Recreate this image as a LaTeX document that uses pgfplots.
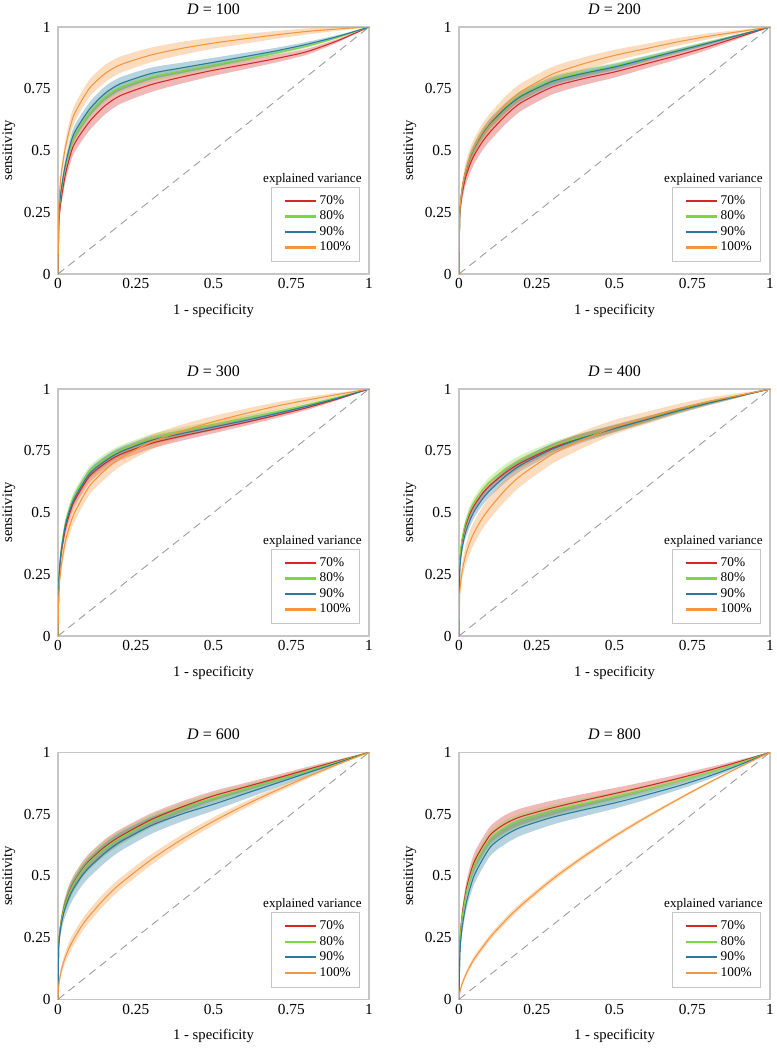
\documentclass[border=0pt]{standalone}
\usepackage{fontspec}
\setmainfont{Liberation Serif}
\usepackage{pgfplots}
\usepackage{pgfplotstable}
\pgfplotsset{compat=1.18}
\usepgfplotslibrary{fillbetween}

\definecolor{cR}{RGB}{214,39,40}
\definecolor{cG}{RGB}{124,214,60}
\definecolor{cB}{RGB}{40,120,160}
\definecolor{cO}{RGB}{245,150,60}

% x, band shape s, mean sensitivity for 70/80/90/100 %
\pgfplotstableread{
x     s    r    g    b    o
0     0    0    0    0    0
0.003 .45  .21  .23  .24  .28
0.01  .7   .30  .33  .34  .40
0.025 .85  .41  .44  .45  .52
0.05  1    .52  .55  .565 .64
0.1   1    .615 .65  .665 .75
0.15  1    .68  .715 .73  .81
0.2   .95  .722 .755 .77  .847
0.3   .85  .767 .797 .812 .887
0.4   .75  .798 .822 .835 .914
0.5   .65  .825 .846 .857 .935
0.6   .55  .848 .87  .88  .952
0.7   .45  .872 .895 .903 .968
0.8   .35  .90  .922 .93  .982
0.9   .2   .945 .958 .962 .992
1     0    1    1    1    1
}\tA
\pgfplotstableread{
x     s    r    g    b    o
0     0    0    0    0    0
0.002 .4   .216 .229 .229 .231
0.005 .55  .272 .289 .289 .291
0.01  .7   .323 .343 .343 .346
0.02  .85  .385 .408 .408 .411
0.035 1    .442 .469 .469 .473
0.05  1    .484 .513 .513 .517
0.075 1    .535 .568 .568 .573
0.1   1    .575 .610 .610 .615
0.15  1    .642 .674 .672 .685
0.2   .95  .694 .724 .720 .739
0.3   .85  .757 .785 .780 .809
0.4   .75  .791 .816 .812 .851
0.5   .65  .818 .842 .838 .885
0.6   .55  .851 .873 .870 .912
0.7   .45  .884 .904 .902 .939
0.8   .35  .920 .936 .934 .962
0.9   .2   .960 .968 .967 .981
1     0    1    1    1    1
}\tB
\pgfplotstableread{
x     s    r    g    b    o
0     0    0    0    0    0
0.003 .45  .22  .235 .23  .18
0.01  .7   .33  .35  .34  .28
0.025 .85  .44  .465 .455 .39
0.05  1    .54  .56  .55  .49
0.1   1    .645 .665 .655 .605
0.15  1    .698 .716 .707 .67
0.2   .95  .735 .752 .745 .72
0.3   .85  .78  .80  .792 .785
0.4   .75  .81  .83  .82  .83
0.5   .65  .837 .857 .846 .868
0.6   .55  .864 .882 .872 .90
0.7   .45  .893 .908 .90  .93
0.8   .35  .924 .936 .93  .955
0.9   .2   .96  .967 .963 .978
1     0    1    1    1    1
}\tC
\pgfplotstableread{
x     s    r    g    b    o
0     0    0    0    0    0
0.002 .4   .279 .286 .250 .161
0.005 .55  .335 .343 .305 .212
0.01  .7   .385 .394 .356 .261
0.02  .85  .442 .453 .414 .321
0.035 1    .495 .507 .468 .380
0.05  1    .531 .544 .507 .422
0.075 1    .576 .590 .554 .477
0.1   1    .610 .625 .590 .520
0.15  1    .662 .676 .648 .593
0.2   .95  .702 .714 .693 .651
0.3   .85  .761 .769 .757 .736
0.4   .75  .805 .808 .803 .796
0.5   .65  .840 .840 .840 .846
0.6   .55  .876 .876 .875 .882
0.7   .45  .912 .912 .910 .918
0.8   .35  .944 .944 .942 .949
0.9   .2   .972 .972 .971 .974
1     0    1    1    1    1
}\tD
\pgfplotstableread{
x     s    r    g    b    o
0     0    0    0    0    0
0.002 .4   .211 .209 .201 .05
0.005 .55  .265 .263 .253 .08
0.01  .7   .315 .312 .300 .114
0.02  .85  .375 .371 .357 .158
0.035 1    .431 .427 .411 .206
0.05  1    .471 .467 .449 .243
0.075 1    .521 .517 .497 .295
0.1   1    .560 .555 .534 .337
0.15  1    .617 .611 .592 .408
0.2   .95  .660 .654 .638 .468
0.3   .85  .728 .721 .704 .566
0.4   .75  .780 .772 .751 .649
0.5   .65  .824 .815 .790 .721
0.6   .55  .859 .851 .832 .786
0.7   .45  .894 .887 .874 .845
0.8   .35  .930 .924 .916 .90
0.9   .2   .965 .962 .958 .952
1     0    1    1    1    1
}\tE
\pgfplotstableread{
x     s    r    g    b    o
0     0    0    0    0    0
0.003 .45  .23  .22  .19  .031
0.01  .7   .34  .33  .29  .063
0.025 .85  .455 .44  .40  .109
0.05  1    .56  .545 .505 .166
0.1   1    .665 .65  .615 .251
0.15  1    .712 .697 .665 .32
0.2   .95  .74  .725 .697 .381
0.3   .85  .775 .762 .737 .486
0.4   .75  .805 .792 .767 .577
0.5   .65  .833 .82  .795 .66
0.6   .55  .862 .85  .827 .736
0.7   .45  .893 .882 .862 .807
0.8   .35  .926 .917 .902 .875
0.9   .2   .962 .956 .948 .939
1     0    1    1    1    1
}\tF

\pgfplotsset{
  rocaxis/.style={
    scale only axis, width=233.25pt, height=185.25pt, anchor=south west,
    xmin=0, xmax=1, ymin=0, ymax=1,
    xtick={0,0.25,0.5,0.75,1}, ytick={0,0.25,0.5,0.75,1},
    xticklabels={0,0.25,0.5,0.75,1}, yticklabels={0,0.25,0.5,0.75,1},
    /pgf/number format/assume math mode=true,
    major tick length=0pt,
    axis line style={gray!45, line width=0.8pt},
    tick label style={font=\fontsize{11.5}{13}\selectfont},
    yticklabel style={xshift=-2pt},
    xlabel={1 - specificity}, ylabel={sensitivity},
    label style={font=\fontsize{11}{13}\selectfont},
    xlabel style={at={(axis description cs:0.5,-0.15)}, anchor=center},
    ylabel style={at={(axis description cs:-0.158,0.5)}, anchor=center},
    every axis title shift=0pt,
    title style={at={(axis description cs:0.5,1.072)}, anchor=center, font=\fontsize{12}{14}\selectfont},
    legend style={at={(rel axis cs:0.968,0.049)}, anchor=south east, draw=gray!45,
      font=\fontsize{10}{11}\selectfont, inner xsep=4pt, inner ysep=4.5pt,
      row sep=-0.5pt, cells={anchor=west}},
    legend image code/.code={\path (-6pt,0pt); \draw[#1, opacity=1] (0pt,0pt) -- (23pt,0pt);},
  }
}

% #1 table, #2 column, #3 colour, #4 largest half width of the band
\newcommand{\rocseries}[4]{%
  \addplot[draw=none, name path=#2hi, forget plot, smooth, tension=0.4] table[x=x, y expr=\thisrow{#2}+#4*\thisrow{s}] {#1};
  \addplot[draw=none, name path=#2lo, forget plot, smooth, tension=0.4] table[x=x, y expr=\thisrow{#2}-#4*\thisrow{s}] {#1};
  \addplot[fill=#3, fill opacity=0.33, draw=none, forget plot] fill between[of=#2hi and #2lo];
  \addplot[#3, opacity=1, line width=0.8pt, smooth, tension=0.4, forget plot] table[x=x, y=#2] {#1};
}

\newcommand{\rocpanel}[4]{%
  \begin{axis}[rocaxis, at={#1}, title={\textit{D} = #2}]
  \addplot[gray!75, line width=0.7pt, dash pattern=on 6pt off 4pt, forget plot] coordinates {(0,0) (1,1)};
  #4
  \addlegendimage{cR, line width=1.6pt}
  \addlegendimage{cG, line width=1.6pt}
  \addlegendimage{cB, line width=1.6pt}
  \addlegendimage{cO, line width=1.6pt}
  \legend{70\%,80\%,90\%,100\%}
  \node[anchor=base, font=\fontsize{9.8}{11}\selectfont] at (rel axis cs:0.818,0.372) {explained variance};
  \end{axis}}

\begin{document}
\begin{tikzpicture}
\rocpanel{(43.5pt,-205.5pt)}{100}{\tA}{%
  \rocseries{\tA}{r}{cR}{0.035}\rocseries{\tA}{g}{cG}{0.02}\rocseries{\tA}{b}{cB}{0.028}\rocseries{\tA}{o}{cO}{0.035}}
\rocpanel{(344.25pt,-205.5pt)}{200}{\tB}{%
  \rocseries{\tB}{r}{cR}{0.035}\rocseries{\tB}{g}{cG}{0.02}\rocseries{\tB}{b}{cB}{0.02}\rocseries{\tB}{o}{cO}{0.035}}
\rocpanel{(43.5pt,-477pt)}{300}{\tC}{%
  \rocseries{\tC}{r}{cR}{0.025}\rocseries{\tC}{g}{cG}{0.02}\rocseries{\tC}{b}{cB}{0.02}\rocseries{\tC}{o}{cO}{0.035}}
\rocpanel{(344.25pt,-477pt)}{400}{\tD}{%
  \rocseries{\tD}{r}{cR}{0.02}\rocseries{\tD}{g}{cG}{0.02}\rocseries{\tD}{b}{cB}{0.025}\rocseries{\tD}{o}{cO}{0.045}}
\rocpanel{(43.5pt,-749.5pt)}{600}{\tE}{%
  \rocseries{\tE}{r}{cR}{0.03}\rocseries{\tE}{g}{cG}{0.03}\rocseries{\tE}{b}{cB}{0.04}\rocseries{\tE}{o}{cO}{0.025}}
\rocpanel{(344.25pt,-749.5pt)}{800}{\tF}{%
  \rocseries{\tF}{r}{cR}{0.035}\rocseries{\tF}{g}{cG}{0.03}\rocseries{\tF}{b}{cB}{0.035}\rocseries{\tF}{o}{cO}{0.012}}
\pgfresetboundingbox
\path[use as bounding box] (0,0) rectangle (582.75pt,-787.5pt);
\end{tikzpicture}
\end{document}
